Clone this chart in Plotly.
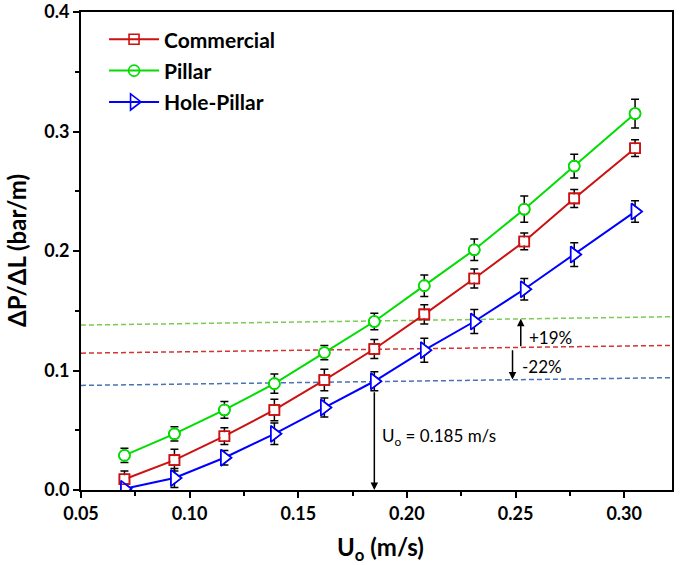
import plotly.graph_objects as go

# ---- data ----
u = [0.07, 0.093, 0.116, 0.139, 0.162, 0.185, 0.208, 0.231, 0.254, 0.277, 0.305]
commercial = [0.009, 0.025, 0.045, 0.067, 0.092, 0.118, 0.147, 0.177, 0.208, 0.244, 0.286]
commercial_err = [0.007, 0.009, 0.007, 0.009, 0.009, 0.008, 0.008, 0.008, 0.007, 0.0075, 0.007]
pillar = [0.029, 0.047, 0.067, 0.089, 0.115, 0.141, 0.171, 0.201, 0.235, 0.271, 0.315]
pillar_err = [0.006, 0.006, 0.007, 0.008, 0.006, 0.007, 0.009, 0.009, 0.011, 0.010, 0.012]
hole_pillar = [0.001, 0.010, 0.027, 0.047, 0.069, 0.091, 0.117, 0.141, 0.168, 0.197, 0.233]
hole_pillar_err = [0.004, 0.008, 0.006, 0.009, 0.008, 0.008, 0.010, 0.010, 0.009, 0.010, 0.009]

ref_x = [0.05, 0.322]
ref_pillar = [0.138, 0.145]
ref_commercial = [0.1145, 0.121]
ref_hole = [0.0875, 0.094]

u_mark = 0.185
u_mark_top = 0.083
up_arrow = dict(x=0.2524, y0=0.1190, y1=0.1433)
down_arrow = dict(x=0.2486, y0=0.1183, y1=0.0925)

FONT = "Lato"

fig = go.Figure()

# reference dashed lines
for yv, col in [(ref_pillar, "#7ACC55"), (ref_commercial, "#D03434"), (ref_hole, "#4A72B8")]:
    fig.add_trace(go.Scatter(x=ref_x, y=yv, mode="lines", showlegend=False,
                             line=dict(color=col, width=1.5, dash="5px,3px"), hoverinfo="skip"))

series = [
    ("Commercial", commercial, commercial_err, "#CC1111", "square-open", 10),
    ("Pillar", pillar, pillar_err, "#00DD00", "circle-open", 11),
    ("Hole-Pillar", hole_pillar, hole_pillar_err, "#0000FF", "triangle-right-open", 14),
]
for name, yv, err, col, sym, sz in series:
    fig.add_trace(go.Scatter(
        x=u, y=yv, name=name, mode="lines+markers", legendgroup=name,
        line=dict(color=col, width=2),
        marker=dict(symbol=sym, size=sz, color=col, line=dict(width=1.6, color=col)),
        error_y=dict(type="data", array=err, visible=True, color="black", thickness=1.5, width=4),
    ))
# white fill behind open markers, then the open markers on top
for name, yv, err, col, sym, sz in series:
    fig.add_trace(go.Scatter(
        x=u, y=yv, mode="markers", showlegend=False, hoverinfo="skip",
        marker=dict(symbol=sym.replace("-open", ""), size=sz - 2, color="white",
                    line=dict(width=0)),
    ))
for name, yv, err, col, sym, sz in series:
    fig.add_trace(go.Scatter(
        x=u, y=yv, mode="markers", showlegend=False, hoverinfo="skip",
        marker=dict(symbol=sym, size=sz, color=col, line=dict(width=1.6, color=col)),
    ))

ann = []
ann.append(dict(x=u_mark, y=0, ax=u_mark, ay=u_mark_top, xref="x", yref="y", axref="x", ayref="y",
                text="", showarrow=True, arrowhead=2, arrowsize=1, arrowwidth=1.5, arrowcolor="black"))
ann.append(dict(x=up_arrow["x"], y=up_arrow["y1"], ax=up_arrow["x"], ay=up_arrow["y0"],
                xref="x", yref="y", axref="x", ayref="y",
                text="", showarrow=True, arrowhead=2, arrowsize=1, arrowwidth=1.5, arrowcolor="black"))
ann.append(dict(x=down_arrow["x"], y=down_arrow["y1"], ax=down_arrow["x"], ay=down_arrow["y0"],
                xref="x", yref="y", axref="x", ayref="y",
                text="", showarrow=True, arrowhead=2, arrowsize=1, arrowwidth=1.5, arrowcolor="black"))
ann.append(dict(x=0.1875, y=0.044, xref="x", yref="y", xanchor="left", yanchor="middle",
                text="U<sub>o</sub> = 0.185 m/s", showarrow=False,
                font=dict(family=FONT, size=17, color="black")))
ann.append(dict(x=0.2552, y=0.128, xref="x", yref="y", xanchor="left", yanchor="middle",
                text="+19%", showarrow=False, font=dict(family=FONT, size=17, color="black")))
ann.append(dict(x=0.2520, y=0.103, xref="x", yref="y", xanchor="left", yanchor="middle",
                text="-22%", showarrow=False, font=dict(family=FONT, size=17, color="black")))
# axis titles
ann.append(dict(x=0.506, y=0, xref="paper", yref="paper", xanchor="center", yanchor="middle",
                yshift=-58, text="U<sub>o</sub> (m/s)", showarrow=False,
                font=dict(family=FONT, size=24, color="black", weight="bold")))
ann.append(dict(x=0, y=0.5, xref="paper", yref="paper", xanchor="center", yanchor="middle",
                xshift=-65, textangle=-90, text="ΔP/ΔL (bar/m)", showarrow=False,
                font=dict(family=FONT, size=24, color="black", weight="bold")))

axis_common = dict(showline=True, linecolor="black", linewidth=2, mirror=True,
                   ticks="outside", ticklen=6, tickwidth=2, tickcolor="black",
                   showgrid=False, zeroline=False, automargin=False,
                   ticklabeloverflow="allow",
                   tickfont=dict(family=FONT, size=18, color="black", weight="bold"))

fig.update_layout(
    width=685, height=565,
    margin=dict(l=81, r=13, t=12, b=75, autoexpand=False),
    paper_bgcolor="white", plot_bgcolor="white",
    font=dict(family=FONT, color="black"),
    xaxis=dict(range=[0.05, 0.322], dtick=0.05, tick0=0.05, tickformat=".2f",
               minor=dict(dtick=0.025, ticks="outside", ticklen=4, tickwidth=1.5, tickcolor="black"),
               **axis_common),
    yaxis=dict(range=[0, 0.4], dtick=0.1, tickformat=".1f",
               minor=dict(dtick=0.05, ticks="outside", ticklen=4, tickwidth=1.5, tickcolor="black"),
               **axis_common),
    legend=dict(x=0.039, y=0.985, xanchor="left", yanchor="top", bgcolor="rgba(0,0,0,0)",
                font=dict(family=FONT, size=21, color="black", weight="bold"),
                tracegroupgap=1, itemwidth=50),
    annotations=ann,
)

fig.write_html("out.html", config={"displayModeBar": False},
               post_script="document.body.style.margin='0';")
